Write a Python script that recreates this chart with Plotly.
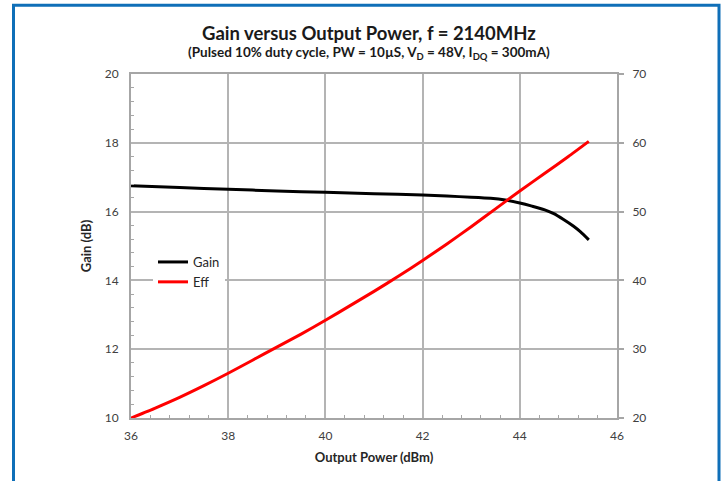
import plotly.graph_objects as go

# Data
gain_x = [36, 37, 38, 39, 40, 41, 42, 42.5, 43, 43.4, 43.7, 44, 44.25, 44.5, 44.7, 44.9, 45.1, 45.25, 45.42]
gain_y = [16.75, 16.70, 16.65, 16.60, 16.56, 16.52, 16.48, 16.45, 16.42, 16.39, 16.34, 16.25, 16.16, 16.06, 15.94, 15.77, 15.58, 15.41, 15.18]

eff_x = [36, 36.5, 37, 37.5, 38, 38.5, 39, 39.5, 40, 40.5, 41, 41.5, 42, 42.5, 43, 43.5, 44, 44.5, 45, 45.42]
eff_y = [20.0, 21.45, 23.0, 24.7, 26.5, 28.4, 30.3, 32.2, 34.2, 36.3, 38.4, 40.6, 42.9, 45.3, 47.8, 50.4, 53.0, 55.5, 58.0, 60.2]

title_text = "Gain versus Output Power, f = 2140MHz"
subtitle_text = "(Pulsed 10% duty cycle, PW = 10µS, V<sub>D</sub> = 48V, I<sub>DQ</sub> = 300mA)"
x_title = "Output Power (dBm)"
y_title = "Gain (dB)"

W, H = 723, 481
L, R, T, B = 131, 617, 74, 418

FONT = "Lato"
GRID = "#b4b4b4"
AXIS = "#a6a6a6"
TICKC = "#404040"

fig = go.Figure()
fig.add_trace(go.Scatter(x=gain_x, y=gain_y, name="Gain", mode="lines",
                         line=dict(color="black", width=3, shape="spline", smoothing=0.5)))
fig.add_trace(go.Scatter(x=eff_x, y=eff_y, name="Eff", mode="lines", yaxis="y2",
                         line=dict(color="#ff0000", width=3, shape="spline", smoothing=0.5)))

def px2paper_x(px):
    return (px - L) / (R - L)

def px2paper_y(py):
    return (B - py) / (B - T)

fig.update_layout(
    width=W, height=H,
    margin=dict(l=L, r=W - R, t=T, b=H - B),
    paper_bgcolor="white", plot_bgcolor="white",
    font=dict(family=FONT, color=TICKC, size=12),
    showlegend=True,
    legend=dict(x=px2paper_x(153), y=px2paper_y(247), xanchor="left", yanchor="top",
                bgcolor="white", font=dict(size=13, color="#262626", family=FONT),
                tracegroupgap=0, itemwidth=30),
    xaxis=dict(range=[36, 46], dtick=2, tick0=36, showgrid=True, gridcolor=GRID, gridwidth=1.5,
               showline=True, linecolor=AXIS, linewidth=2, mirror=True, zeroline=False,
               ticks="", ticklabelstandoff=6,
               minor=dict(dtick=0.4, tick0=36, ticks="inside", ticklen=3, tickcolor=AXIS, showgrid=False),
               tickfont=dict(size=12, color=TICKC, family=FONT),
               title=dict(text="<b>" + x_title + "</b>", font=dict(size=13, color="#262626", family=FONT), standoff=10)),
    yaxis=dict(range=[10, 20], dtick=2, tick0=10, showgrid=True, gridcolor=GRID, gridwidth=1.5,
               showline=True, linecolor=AXIS, linewidth=2, zeroline=False,
               ticks="", ticklabelstandoff=8,
               minor=dict(dtick=0.4, tick0=10, ticks="inside", ticklen=3, tickcolor=AXIS, showgrid=False),
               tickfont=dict(size=12, color=TICKC, family=FONT),
               title=dict(text="<b>" + y_title + "</b>", font=dict(size=13, color="#262626", family=FONT), standoff=10)),
    yaxis2=dict(range=[20, 70], dtick=10, tick0=20, overlaying="y", side="right", showgrid=False,
                showline=True, linecolor=AXIS, linewidth=2, zeroline=False,
                ticks="outside", ticklen=5, tickcolor=AXIS, tickwidth=1.5, ticklabelstandoff=6,
                tickfont=dict(size=12, color=TICKC, family=FONT)),
    annotations=[
        dict(text="<b>" + title_text + "</b>", xref="paper", yref="paper",
             x=px2paper_x(369), y=px2paper_y(33), xanchor="center", yanchor="middle",
             showarrow=False, font=dict(size=18.5, color="#1a1a1a", family=FONT)),
        dict(text="<b>" + subtitle_text + "</b>", xref="paper", yref="paper",
             x=px2paper_x(369), y=px2paper_y(53), xanchor="center", yanchor="middle",
             showarrow=False, font=dict(size=13.5, color="#1a1a1a", family=FONT)),
    ],
    shapes=[
        dict(type="rect", xref="paper", yref="paper",
             x0=px2paper_x(13.5), x1=px2paper_x(719), y0=px2paper_y(495), y1=px2paper_y(5.3),
             line=dict(color="#0f6fb8", width=3), fillcolor="rgba(0,0,0,0)", layer="above"),
    ],
)

fig.write_html("out.html")
